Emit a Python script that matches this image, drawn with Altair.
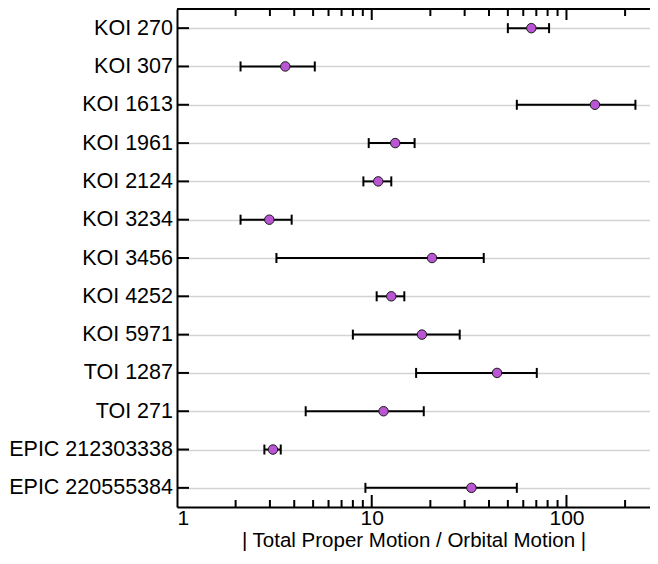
import altair as alt
import pandas as pd

names = ["KOI 270", "KOI 307", "KOI 1613", "KOI 1961", "KOI 2124", "KOI 3234",
         "KOI 3456", "KOI 4252", "KOI 5971", "TOI 1287", "TOI 271",
         "EPIC 212303338", "EPIC 220555384"]
ratio = [66.0, 3.6, 140.0, 13.2, 10.8, 2.98, 20.4, 12.6, 18.1, 44.0, 11.5, 3.11, 32.5]
lo = [50.0, 2.12, 55.6, 9.65, 9.06, 2.12, 3.24, 10.6, 8.0, 16.9, 4.58, 2.81, 9.28]
hi = [81.4, 5.1, 226.0, 16.6, 12.6, 3.88, 37.6, 14.7, 28.3, 70.4, 18.5, 3.41, 55.6]

minor_ticks = [2, 3, 4, 5, 6, 7, 8, 9, 20, 30, 40, 50, 60, 70, 80, 90, 200]
major_ticks = [10, 100]
x_labels = [1, 10, 100]

df = pd.DataFrame({"name": names, "ratio": ratio, "lo": lo, "hi": hi})
minor_df = pd.DataFrame({"v": minor_ticks})
major_df = pd.DataFrame({"v": major_ticks})

W, H = 473, 498
xscale = alt.Scale(type="log", domain=[1, 268.5])
yscale = alt.Scale(type="point", padding=0.5)

y_enc = alt.Y("name:N", sort=names, scale=yscale,
              axis=alt.Axis(title=None, ticks=False, labelPadding=4.5,
                            labelFontSize=21.5, labelColor="black",
                            domain=True, domainColor="black", domainWidth=2,
                            grid=True, gridColor="#d3d3d3", gridWidth=1.5))

base = alt.Chart(df)

points = base.mark_circle(size=90, color="#BA55D3", stroke="#1a1a1a",
                          strokeWidth=1, opacity=1).encode(
    x=alt.X("ratio:Q", scale=xscale,
            axis=alt.Axis(title="| Total Proper Motion / Orbital Motion |",
                          values=x_labels, format="d", ticks=False, grid=False,
                          labelFontSize=21, labelColor="black", labelPadding=0,
                          titleFontSize=20.5, titleFontWeight="normal",
                          titleColor="black", titleBaseline="top", titleY=23.5,
                          domain=True, domainColor="black", domainWidth=2)),
    y=y_enc,
)

err = base.mark_rule(color="black", strokeWidth=2).encode(
    x=alt.X("lo:Q", scale=xscale), x2="hi:Q", y=alt.Y("name:N", sort=names, scale=yscale))
cap_lo = base.mark_tick(orient="vertical", size=10, thickness=2, color="black", opacity=1).encode(
    x=alt.X("lo:Q", scale=xscale), y=alt.Y("name:N", sort=names, scale=yscale))
cap_hi = base.mark_tick(orient="vertical", size=10, thickness=2, color="black", opacity=1).encode(
    x=alt.X("hi:Q", scale=xscale), y=alt.Y("name:N", sort=names, scale=yscale))

ytick = base.mark_rule(color="black", strokeWidth=2).encode(
    y=alt.Y("name:N", sort=names, scale=yscale), x=alt.value(0), x2=alt.value(12))

top_minor = alt.Chart(minor_df).mark_rule(color="black", strokeWidth=2).encode(
    x=alt.X("v:Q", scale=xscale), y=alt.value(0), y2=alt.value(7))
top_major = alt.Chart(major_df).mark_rule(color="black", strokeWidth=2).encode(
    x=alt.X("v:Q", scale=xscale), y=alt.value(0), y2=alt.value(11))
bot_minor = alt.Chart(minor_df).mark_rule(color="black", strokeWidth=2).encode(
    x=alt.X("v:Q", scale=xscale), y=alt.value(H - 7), y2=alt.value(H))
bot_major = alt.Chart(major_df).mark_rule(color="black", strokeWidth=2).encode(
    x=alt.X("v:Q", scale=xscale), y=alt.value(H - 12), y2=alt.value(H))

top_frame = alt.Chart(major_df).mark_rule(color="black", strokeWidth=2).encode(
    x=alt.value(0), x2=alt.value(W), y=alt.value(0))

chart = alt.layer(err, cap_lo, cap_hi, points, ytick,
                  top_minor, top_major, bot_minor, bot_major, top_frame).properties(
    width=W, height=H,
    autosize=alt.AutoSizeParams(type="none"),
    padding={"left": 169, "top": 1, "right": 0, "bottom": 44},
).configure_view(stroke=None).configure(font="Liberation Sans")

chart.save("out.html", embed_options={"renderer": "svg", "actions": False})
